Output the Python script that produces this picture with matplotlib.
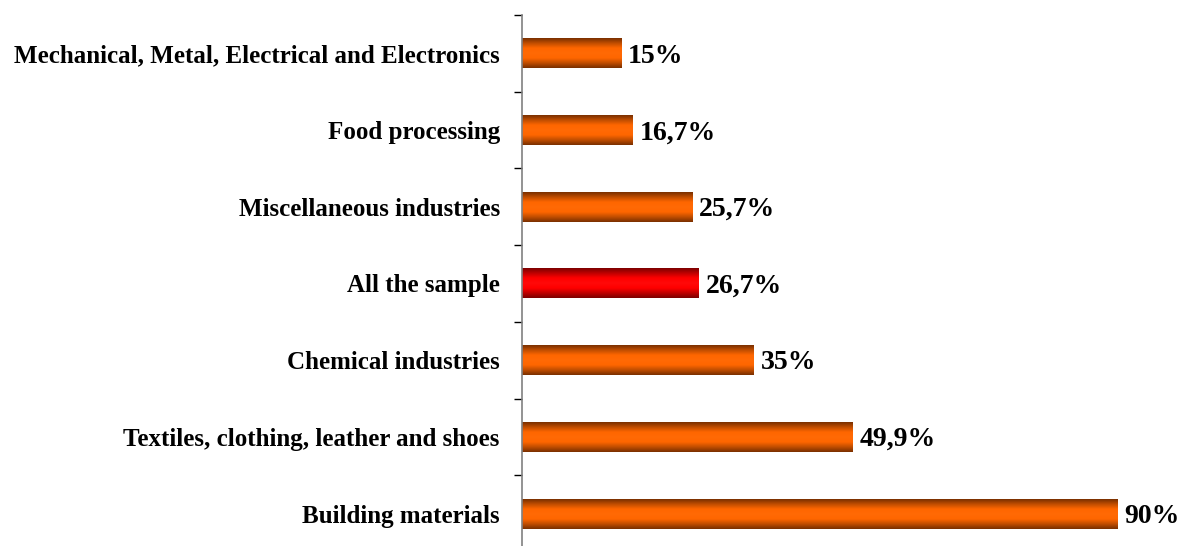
import numpy as np
import matplotlib
matplotlib.use('Agg')
import matplotlib.pyplot as plt
from matplotlib.colors import LinearSegmentedColormap

# data, top to bottom
categories = [
    "Mechanical, Metal, Electrical and Electronics",
    "Food processing",
    "Miscellaneous industries",
    "All the sample",
    "Chemical industries",
    "Textiles, clothing, leather and shoes",
    "Building materials",
]
values = [15, 16.7, 25.7, 26.7, 35, 49.9, 90]
value_labels = ["15%", "16,7%", "25,7%", "26,7%", "35%", "49,9%", "90%"]
highlight = "All the sample"

plt.rcParams['font.family'] = ['Liberation Serif', 'DejaVu Serif']

W, H = 1186, 546
fig = plt.figure(figsize=(W / 100, H / 100), dpi=100)
# axes: left spine at x=522 px, top at y=15 px, slot height ~76.7 px
slot = 76.7
n = len(categories)
top_px, left_px = 15, 522
ax = fig.add_axes([left_px / W, (H - top_px - n * slot) / H,
                   (W - left_px - 2) / W, n * slot / H])

orange = LinearSegmentedColormap.from_list(
    "orange", ["#7a3000", "#c24e00", "#ff6600", "#ff6a05", "#ff6600", "#c24e00", "#7a3000"])
red = LinearSegmentedColormap.from_list(
    "red", ["#7d0000", "#c00000", "#ff0000", "#ff0a0a", "#ff0000", "#c00000", "#7d0000"])
grad = np.linspace(0, 1, 64).reshape(-1, 1)

y = np.arange(n)
bar_h = 0.39
bars = ax.barh(y, values, height=bar_h, color='none', edgecolor='none')
for bar, cat, lab in zip(bars, categories, value_labels):
    x0, y0 = bar.get_x(), bar.get_y()
    w, h = bar.get_width(), bar.get_height()
    cmap = red if cat == highlight else orange
    ax.imshow(grad, cmap=cmap, aspect='auto', interpolation='bicubic',
              extent=[x0, x0 + w, y0 + h, y0], zorder=2)
    ax.annotate(lab, xy=(x0 + w, y0 + h / 2), xytext=(5, -2),
                textcoords='offset points', ha='left', va='center',
                fontsize=20, fontweight='bold')

ax.set_xlim(0, 100)
ax.set_ylim(n - 0.5, -0.5)
ax.set_yticks(y)
ax.set_yticklabels(categories, fontsize=18, fontweight='bold')
ax.set_yticks(np.arange(n + 1) - 0.5, minor=True)
ax.tick_params(axis='y', which='major', length=0, pad=16)
ax.tick_params(axis='y', which='minor', length=6, width=1, color='black')
ax.set_xticks([])
for s in ['top', 'right', 'bottom']:
    ax.spines[s].set_visible(False)
ax.spines['left'].set_color('#808080')
ax.spines['left'].set_linewidth(1.2)

fig.savefig('out.png', dpi=100)
